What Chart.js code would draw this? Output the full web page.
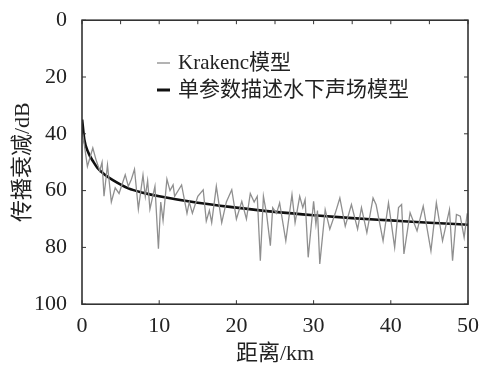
<!DOCTYPE html>
<html>
<head>
<meta charset="utf-8">
<script src="https://cdn.jsdelivr.net/npm/chart.js@4.4.1/dist/chart.umd.min.js"></script>
<style>
  html, body { margin: 0; padding: 0; background: #fff; }
  #wrap { width: 480px; height: 367px; }
</style>
</head>
<body>
<div id="wrap"><canvas id="c" width="480" height="367"></canvas></div>
<script>
// Krakenc model - range (km) and loss (dB)
var krakenX = [0.1, 0.7, 1.4, 1.8, 2.3, 2.6, 2.85, 3.3, 3.8, 4.3, 4.8, 5.6, 6.0, 6.4, 6.8, 7.3, 7.9, 8.2, 8.5, 8.8,
    9.45, 9.9, 10.2, 10.5, 11.0, 11.4, 11.8, 12.0, 12.9, 13.6, 13.9, 14.3, 15.0, 15.7, 16.1, 16.5, 16.8, 17.4, 18.1, 18.7,
    19.4, 20.0, 20.7, 21.3, 21.8, 22.3, 22.7, 23.1, 23.5, 23.9, 24.4, 24.7, 25.2, 25.6, 26.4, 27.2, 27.6, 28.2, 28.6, 28.9,
    29.3, 30.0, 30.3, 30.5, 30.8, 31.5, 32.1, 32.8, 33.4, 34.1, 34.9, 35.7, 36.2, 36.9, 37.7, 38.1, 39.0, 39.7, 40.5, 41.0,
    41.4, 41.7, 42.5, 43.4, 44.2, 45.2, 45.9, 46.7, 47.6, 48.0, 48.5, 49.0, 49.5, 49.9];
var krakenY = [40, 51.5, 45, 49, 53, 50, 62, 51, 64, 59, 61, 54.4, 58.5, 56, 52.5, 66.5, 54.5, 62, 56.5, 66.5,
    58.5, 80.5, 64, 70.5, 56, 60, 58, 62, 58, 68, 64, 68, 62, 59.7, 70.7, 67, 71.3, 58.5, 71.3, 64,
    59.7, 70, 63.8, 70, 61, 64, 62, 84.7, 62, 68, 79.4, 66, 68, 64.3, 77.7, 61.4, 71.3, 62, 66, 63.2,
    83.5, 63.8, 71.9, 67, 85.8, 66.7, 73.6, 68, 62.6, 72.5, 64.9, 73.6, 66, 74.8, 62.6, 65, 77.7, 64.3, 80, 66,
    64.9, 82.3, 67.8, 74.2, 65.5, 81.2, 64.3, 77.7, 66.7, 84.7, 68.4, 69, 76.5, 68];

// single-parameter model, smooth curve
var modelX = [0.02, 0.3, 0.8, 1.5, 2, 3, 4, 6, 8, 10, 15, 20, 25, 30, 35, 40, 45, 50];
var modelY = [35, 42, 46.5, 50, 52, 54.5, 56.3, 59.2, 60.8, 62, 64.3, 66, 67.5, 68.7, 69.7, 70.5, 71.3, 72];

var xTicks = [0, 10, 20, 30, 40, 50];
var yTicks = [0, 20, 40, 60, 80, 100];
var seriesNames = ['Krakenc模型', '单参数描述水下声场模型'];

var serif = "'Liberation Serif', 'Noto Sans CJK SC', serif";

function toPoints(xs, ys) {
    var pts = [];
    for (var i = 0; i < xs.length; i++) {
        pts.push({x: xs[i], y: ys[i]});
    }
    return pts;
}

// frame, inward ticks and legend inside the plot
var framePlugin = {
    id: 'frame',
    afterDraw: function (chart) {
        var ctx = chart.ctx;
        var a = chart.chartArea;
        var xs = chart.scales.x, ys = chart.scales.y;
        ctx.save();
        ctx.strokeStyle = '#333';
        ctx.lineWidth = 1.6;
        ctx.strokeRect(a.left, a.top, a.right - a.left, a.bottom - a.top);
        ctx.lineWidth = 1;
        for (var v = 0; v <= 50; v += 5) {
            var px = xs.getPixelForValue(v);
            ctx.beginPath();
            ctx.moveTo(px, a.top); ctx.lineTo(px, a.top + 4);
            if (v % 10 === 0) { ctx.moveTo(px, a.bottom); ctx.lineTo(px, a.bottom - 4); }
            ctx.stroke();
        }
        yTicks.forEach(function (v) {
            var py = ys.getPixelForValue(v);
            ctx.beginPath();
            ctx.moveTo(a.left, py); ctx.lineTo(a.left + 4, py);
            ctx.moveTo(a.right, py); ctx.lineTo(a.right - 4, py);
            ctx.stroke();
        });

        // legend
        var colors = ['#9a9a9a', '#111'];
        var widths = [1.5, 3];
        var lx = 157, ly = 63;
        ctx.font = "21px " + serif;
        ctx.textBaseline = 'middle';
        chart.data.datasets.forEach(function (ds, i) {
            var y = ly + i * 27;
            ctx.strokeStyle = colors[i];
            ctx.lineWidth = widths[i];
            ctx.beginPath();
            ctx.moveTo(lx, y); ctx.lineTo(lx + 13, y);
            ctx.stroke();
            ctx.fillStyle = '#222';
            ctx.fillText(ds.label, lx + 21, y);
        });
        ctx.restore();
    }
};

new Chart(document.getElementById('c'), {
    type: 'scatter',
    data: {
        datasets: [
            {
                label: seriesNames[0],
                data: toPoints(krakenX, krakenY),
                showLine: true,
                borderColor: '#8f8f8f',
                borderWidth: 1.3,
                pointRadius: 0,
                tension: 0
            },
            {
                label: seriesNames[1],
                data: toPoints(modelX, modelY),
                showLine: true,
                borderColor: '#111',
                borderWidth: 2.6,
                pointRadius: 0,
                cubicInterpolationMode: 'monotone'
            }
        ]
    },
    options: {
        responsive: false,
        animation: false,
        layout: {padding: {top: 0, right: 11, left: 0, bottom: 0}},
        plugins: {legend: {display: false}, tooltip: {enabled: false}},
        scales: {
            x: {
                type: 'linear', min: 0, max: 50,
                afterBuildTicks: function (s) { s.ticks = xTicks.map(function (v) { return {value: v}; }); },
                grid: {display: false},
                border: {display: false},
                ticks: {color: '#222', font: {family: serif, size: 22}, padding: 1, maxRotation: 0},
                title: {display: true, text: '距离/km', color: '#222', font: {family: serif, size: 22}, padding: {top: 0, bottom: 0}}
            },
            y: {
                type: 'linear', min: 0, max: 100, reverse: true,
                afterBuildTicks: function (s) { s.ticks = yTicks.map(function (v) { return {value: v}; }); },
                afterFit: function (s) { s.width = 82; },
                grid: {display: false},
                border: {display: false},
                ticks: {color: '#222', font: {family: serif, size: 22}, padding: 7},
                title: {display: true, text: '传播衰减/dB', color: '#222', font: {family: serif, size: 22}, padding: {top: 10, bottom: 0}}
            }
        }
    },
    plugins: [framePlugin]
});
</script>
</body>
</html>
